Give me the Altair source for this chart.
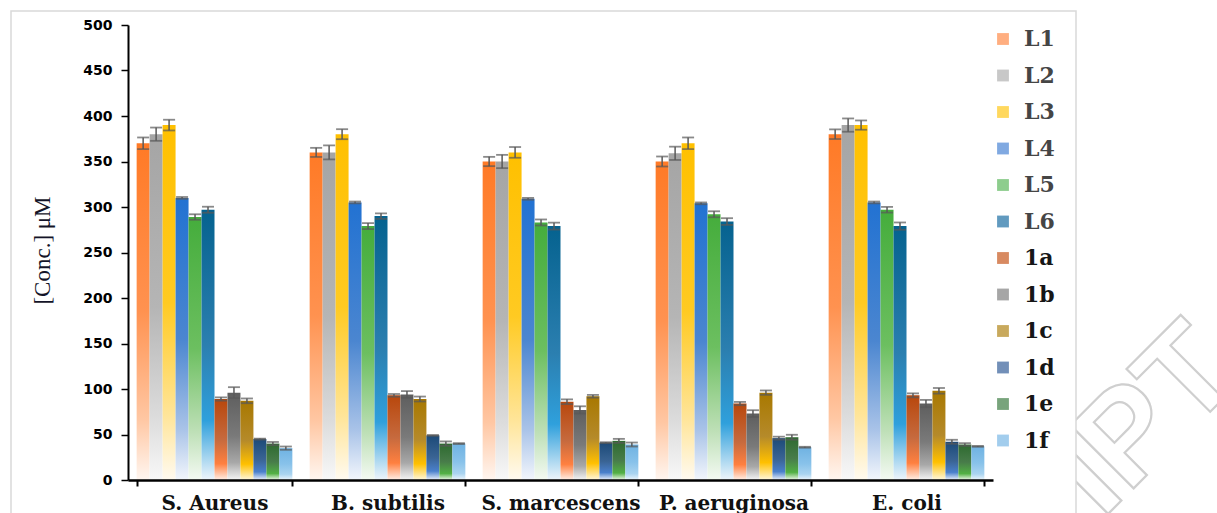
import altair as alt
import pandas as pd

# Bacterial strains (x groups) and tested compounds (bars within each group)
bacteria = ["S. Aureus", "B. subtilis", "S. marcescens", "P. aeruginosa", "E. coli"]
series = ["L1", "L2", "L3", "L4", "L5", "L6", "1a", "1b", "1c", "1d", "1e", "1f"]

# Mean concentration (µM) per compound, listed in strain order
conc_L1 = [370, 360, 350, 350, 380]
conc_L2 = [380, 360, 350, 359, 390]
conc_L3 = [390, 380, 360, 370, 390]
conc_L4 = [310, 305, 309, 304, 305]
conc_L5 = [289, 279, 283, 292, 297]
conc_L6 = [297, 290, 279, 284, 279]
conc_1a = [89, 93, 86, 84, 93]
conc_1b = [96, 94, 77, 73, 84]
conc_1c = [87, 89, 92, 96, 98]
conc_1d = [45, 49, 41, 46, 42]
conc_1e = [40, 40, 43, 47, 39]
conc_1f = [35, 40, 39, 36, 37]

# Standard deviations, same order
sd_L1 = [6.4, 5.0, 5.1, 5.5, 5.3]
sd_L2 = [7.3, 7.7, 7.3, 7.3, 7.3]
sd_L3 = [5.9, 5.5, 5.9, 6.4, 5.1]
sd_L4 = [1.0, 1.0, 1.0, 1.0, 1.0]
sd_L5 = [3.0, 3.3, 3.3, 3.3, 3.1]
sd_L6 = [3.3, 3.1, 3.8, 3.7, 4.0]
sd_1a = [1.8, 1.5, 2.6, 1.8, 2.2]
sd_1b = [6.0, 3.7, 4.0, 3.7, 4.0]
sd_1c = [2.6, 2.7, 1.5, 2.4, 3.1]
sd_1d = [0.5, 0.5, 0.5, 1.6, 2.2]
sd_1e = [1.8, 2.4, 2.2, 2.7, 1.5]
sd_1f = [1.8, 0.5, 2.2, 0.5, 0.5]

conc = [conc_L1, conc_L2, conc_L3, conc_L4, conc_L5, conc_L6,
        conc_1a, conc_1b, conc_1c, conc_1d, conc_1e, conc_1f]
sd = [sd_L1, sd_L2, sd_L3, sd_L4, sd_L5, sd_L6,
      sd_1a, sd_1b, sd_1c, sd_1d, sd_1e, sd_1f]

# Vertical fill gradients (top -> bottom) for each compound's bars
gradients = {
    "L1": [("#ff7a26", 0), ("#ff9250", 0.5), ("#ffc7a3", 0.82), ("#fff6f0", 1)],
    "L2": [("#a5a5a5", 0), ("#b5b5b5", 0.5), ("#dcdcdc", 0.82), ("#f8f8f8", 1)],
    "L3": [("#ffc000", 0), ("#ffca22", 0.5), ("#ffe59a", 0.82), ("#fffaf0", 1)],
    "L4": [("#2272d2", 0), ("#4b86d0", 0.5), ("#a9c3e8", 0.82), ("#f2f6fc", 1)],
    "L5": [("#45ad3c", 0), ("#6cbf60", 0.5), ("#bfe0b8", 0.82), ("#f4faf3", 1)],
    "L6": [("#05628f", 0), ("#2b7fb0", 0.5), ("#2fa0dc", 0.78), ("#eef5fb", 1)],
    "1a": [("#b8470c", 0), ("#c66a3e", 0.5), ("#ff8040", 0.8), ("#fff0e8", 1)],
    "1b": [("#5e5e5e", 0), ("#7a7a7a", 0.5), ("#a8a8a8", 0.8), ("#f5f5f5", 1)],
    "1c": [("#a87800", 0), ("#b58a2a", 0.5), ("#ffc000", 0.8), ("#fff8e0", 1)],
    "1d": [("#1c4a78", 0), ("#3a6494", 0.5), ("#4a80cc", 0.8), ("#eef3fb", 1)],
    "1e": [("#2e6a30", 0), ("#487c4a", 0.5), ("#52b044", 0.82), ("#f0f8ee", 1)],
    "1f": [("#6fb2e2", 0), ("#88c2ea", 0.5), ("#aad4f0", 0.82), ("#eef6fc", 1)],
}
legend_colors = ["#ff8c4a", "#b0b0b0", "#ffc81a", "#4a84d4", "#5cb85c", "#1e6fa4",
                 "#c8581e", "#808080", "#b08418", "#36609a", "#3f7e44", "#7ab8e6"]

rows = []
for s, vals, errs in zip(series, conc, sd):
    for b, v, e in zip(bacteria, vals, errs):
        rows.append({"Bacteria": b, "Series": s, "Conc": v, "Lo": v - e, "Hi": v + e})
df = pd.DataFrame(rows)
one = pd.DataFrame({"k": [0]})

W, H = 865, 455
ERR = "#595959"

x_enc = alt.X(
    "Bacteria:N",
    scale=alt.Scale(domain=bacteria, paddingInner=0.1, paddingOuter=0.05),
    axis=alt.Axis(
        title=None, labelAngle=0, tickBand="extent", tickSize=6, tickWidth=2,
        tickColor="black", domainColor="black", domainWidth=2.5,
        labelFont="DejaVu Serif", labelFontWeight="bold", labelFontSize=20,
        labelColor="#111111", labelPadding=7, zindex=1,
    ),
)
xo_enc = alt.XOffset("Series:N", scale=alt.Scale(domain=series, paddingInner=0, paddingOuter=0))
y_scale = alt.Scale(domain=[0, 500], nice=False)
y_enc = alt.Y(
    "Conc:Q",
    scale=y_scale,
    axis=alt.Axis(
        title="[Conc.] μM", values=list(range(0, 501, 50)), grid=False,
        tickSize=7, tickWidth=1.5, tickColor="black", domainColor="black", domainWidth=2,
        labelFont="DejaVu Sans", labelFontWeight="bold", labelFontSize=14,
        labelColor="black", labelPadding=9,
        titleFont="Liberation Serif", titleFontWeight="normal", titleFontSize=23,
        titleColor="#141428", titleAngle=270, titleX=-86, titleY=225,
        titleAlign="center", titleBaseline="middle", zindex=1,
    ),
)

base = alt.Chart(df)

# Watermark, partly hidden behind the white figure panel
watermark = alt.Chart(one).mark_text(
    text="IPT", font="Liberation Sans", fontWeight="bold", fontSize=130, angle=315,
    align="right", baseline="alphabetic", fill="#ffffff", stroke="#cfcfcf", strokeWidth=2.2,
).encode(x=alt.value(1117), y=alt.value(352))

# White figure panel with a light border
panel = alt.Chart(one).mark_rect(fill="white", stroke="#d9d9d9", strokeWidth=1.5).encode(
    x=alt.value(-117), x2=alt.value(948), y=alt.value(-14), y2=alt.value(520)
)

layers = [watermark, panel]
for s in series:
    grad = alt.Gradient(
        gradient="linear", x1=0, x2=0, y1=0, y2=1,
        stops=[alt.GradientStop(color=c, offset=o) for c, o in gradients[s]],
    )
    layers.append(
        base.transform_filter(alt.datum.Series == s)
        .mark_bar(fill=grad, strokeWidth=0)
        .encode(x=x_enc, xOffset=xo_enc, y=y_enc)
    )

# Error bars: vertical rule plus caps
layers.append(base.mark_rule(color=ERR, strokeWidth=1.5).encode(
    x=x_enc, xOffset=xo_enc, y=alt.Y("Lo:Q", scale=y_scale), y2="Hi:Q"))
layers.append(base.mark_tick(color=ERR, thickness=1.8, size=12).encode(
    x=x_enc, xOffset=xo_enc, y=alt.Y("Lo:Q", scale=y_scale)))
layers.append(base.mark_tick(color=ERR, thickness=1.8, size=12).encode(
    x=x_enc, xOffset=xo_enc, y=alt.Y("Hi:Q", scale=y_scale)))

# Legend carrier (no marks drawn)
layers.append(
    base.transform_filter("false").mark_square().encode(
        color=alt.Color(
            "Series:N",
            scale=alt.Scale(domain=series, range=legend_colors),
            legend=alt.Legend(
                title=None, orient="none", legendX=864, legendY=3, padding=0,
                symbolType="square", symbolSize=140, symbolStrokeWidth=0,
                labelFont="DejaVu Serif", labelFontWeight="bold", labelFontSize=22,
                labelColor=alt.ExprRef("indexof(datum.label, 'L') == 0 ? '#454545' : '#161616'"),
                labelOffset=10, rowPadding=14.5,
            ),
        )
    )
)

chart = alt.layer(*layers).properties(
    width=W, height=H,
    autosize=alt.AutoSizeParams(type="none"),
    padding={"left": 128, "top": 25, "right": 224, "bottom": 33},
    background="white",
).configure_view(strokeWidth=0)

chart.save("out.html", embed_options={"renderer": "svg", "actions": False})
